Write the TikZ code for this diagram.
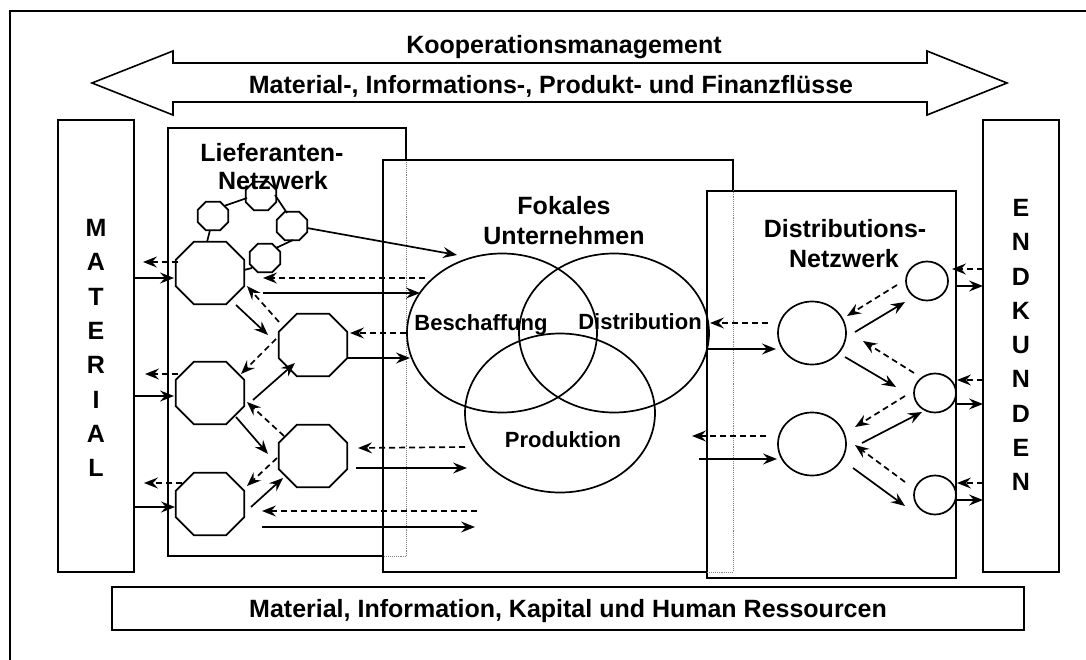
\documentclass[tikz,border=0pt]{standalone}
\usepackage{fontspec}
\setmainfont{Liberation Sans}
\usetikzlibrary{arrows.meta,calc,shapes.geometric}

% octagon drawn around a named rectangular node, #2 = size of the corner cut
\newcommand{\octagonat}[2]{%
  \draw[line width=1.7pt, line join=miter]
    ($(#1.north west)+(#2,0)$) -- ($(#1.north east)+(-#2,0)$)
    -- ($(#1.north east)+(0,#2)$) -- ($(#1.south east)+(0,-#2)$)
    -- ($(#1.south east)+(-#2,0)$) -- ($(#1.south west)+(#2,0)$)
    -- ($(#1.south west)+(0,-#2)$) -- ($(#1.north west)+(0,#2)$) -- cycle;}

\begin{document}
\begin{tikzpicture}[x=1pt,y=-1pt,
  frameline/.style={line width=2pt},
  boxline/.style={line width=1.6pt},
  panel/.style={rectangle, inner sep=0pt},
  overlapline/.style={line width=1.1pt, densely dotted, black!50},
  htext/.style={font=\bfseries\fontsize{25}{30}\selectfont, inner sep=0pt, text depth=0pt},
  vtext/.style={font=\bfseries\fontsize{22}{26}\selectfont, inner sep=0pt, text depth=0pt},
  bigoct/.style={rectangle, minimum width=68pt, minimum height=62pt, inner sep=0pt},
  smalloct/.style={rectangle, minimum width=30pt, minimum height=28pt, inner sep=0pt},
  venn/.style={draw, line width=1.7pt, ellipse, minimum width=190pt, minimum height=159pt, inner sep=0pt},
  hubnode/.style={draw, line width=1.7pt, ellipse, minimum width=68pt, minimum height=63pt, inner sep=0pt},
  leafnode/.style={draw, line width=1.7pt, ellipse, minimum width=42pt, minimum height=39pt, inner sep=0pt},
  fwd/.style={line width=1.7pt, -{Stealth[length=14pt,width=11pt,inset=5pt]}},
  bwd/.style={fwd, dash pattern=on 6pt off 4pt},
  octlink/.style={line width=1.7pt},
]
\useasboundingbox (0,0) rectangle (1086,660);

% outer frame
\draw[frameline] (10,660) -- (10,11) -- (1086,11);

% two-headed arrow of the cooperation management
\draw[line width=1.6pt, line join=miter]
  (92,83) -- (173,51) -- (173,63) -- (927,63) -- (927,51) -- (1007,83)
  -- (927,115) -- (927,102) -- (173,102) -- (173,115) -- cycle;
\node[htext] (t-koop) at (564,44) {Kooperationsmanagement};
\node[htext] (t-flow) at (551,84) {Material-, Informations-, Produkt- und Finanzflüsse};

% side columns
\node[panel, draw, boxline, minimum width=76pt, minimum height=452pt] (mat) at (96,346) {};
\node[panel, draw, boxline, minimum width=76pt, minimum height=452pt] (endk) at (1021,346) {};
\foreach \ch [count=\i from 0] in {M,A,T,E,R,I,A,L}
  \node[htext] (mat-l\i) at ($(mat)+(0,{-118+34.3*\i})$) {\ch};
\foreach \ch [count=\i from 0] in {E,N,D,K,U,N,D,E,N}
  \node[htext] (endk-l\i) at ($(endk)+(0,{-138+34.25*\i})$) {\ch};

% resources bar
\node[panel, draw, boxline, minimum width=912pt, minimum height=43pt] (res) at (568,608.5) {};
\node[htext] (t-res) at (res) {Material, Information, Kapital und Human Ressourcen};

% network boxes
\node[panel, minimum width=238pt, minimum height=428pt] (lief) at (287,342) {};
\node[panel, minimum width=350pt, minimum height=412pt] (foc) at (558,366) {};
\node[panel, draw, boxline, minimum width=249pt, minimum height=387pt] (dist) at (831.5,384.5) {};

\draw[boxline] (foc.west |- lief.south) -- (lief.south west) -- (lief.north west)
  -- (lief.north east) -- (lief.east |- foc.north);
\draw[overlapline] (lief.east |- foc.north) -- (lief.south east) -- (foc.west |- lief.south);
\draw[boxline] (dist.west |- foc.south) -- (foc.south west) -- (foc.north west)
  -- (foc.north east) -- (foc.east |- dist.north);
\draw[overlapline] (foc.east |- dist.north) -- (foc.south east) -- (dist.west |- foc.south);

\node[htext] (t-lief1) at (272,152) {Lieferanten-};
\node[htext] (t-lief2) at (273,180) {Netzwerk};
\node[htext] (t-foc1) at (564,205) {Fokales};
\node[htext] (t-foc2) at (564,235) {Unternehmen};
\node[htext] (t-dist1) at (845,228) {Distributions-};
\node[htext] (t-dist2) at (844,258) {Netzwerk};

% supplier network
\node[smalloct] (s1) at (213,216) {};
\node[smalloct] (s2) at (261,196) {};
\node[smalloct] (s3) at (292,226) {};
\node[smalloct] (s4) at (265,258) {};
\node[bigoct] (A) at (210,273) {};
\node[bigoct] (B) at (313,345) {};
\node[bigoct] (C) at (210,393) {};
\node[bigoct] (D) at (313,456) {};
\node[bigoct] (E) at (210,504) {};
\foreach \n in {s1,s2,s3,s4} \octagonat{\n}{8};
\foreach \n in {A,B,C,D,E} \octagonat{\n}{18};

\draw[octlink] ($(s1)+(11,-10)$) -- ($(s2)+(-14,2)$);
\draw[octlink] ($(s2)+(14,-1)$) -- ($(s3)+(-5,-13)$);
\draw[octlink] ($(s3)+(1,14)$) -- ($(s4)+(11,-10)$);
\draw[octlink] ($(s1)+(-3,14)$) -- ($(A)+(-3,-31)$);
\draw[octlink] ($(s4)+(-13,10)$) -- ($(A)+(34,-3)$);

\draw[fwd] ($(A)+(26,32)$) -- ($(B)+(-45,-10)$);
\draw[bwd] ($(B)+(-34,-23)$) -- ($(A)+(37,13)$);
\draw[bwd] ($(B)+(-37,-6)$) -- ($(C)+(31,-19)$);
\draw[fwd] ($(C)+(43,7)$) -- ($(B)+(-18,18)$);
\draw[fwd] ($(C)+(26,24)$) -- ($(D)+(-45,-2)$);
\draw[bwd] ($(D)+(-29,-20)$) -- ($(C)+(37,9)$);
\draw[bwd] ($(D)+(-36,2)$) -- ($(E)+(37,-18)$);
\draw[fwd] ($(E)+(41,3)$) -- ($(D)+(-30,22)$);

% material supply
\draw[bwd] ($(A)+(-32,-11)$) -- ($(mat)+(47,-84)$);
\draw[fwd] ($(mat)+(38,-68)$) -- ($(A)+(-36,5)$);
\draw[bwd] ($(C)+(-32,-19)$) -- ($(mat)+(49,28)$);
\draw[fwd] ($(mat)+(38,50)$) -- ($(C)+(-36,3)$);
\draw[bwd] ($(E)+(-28,-21)$) -- ($(mat)+(48,137)$);
\draw[fwd] ($(mat)+(38,161)$) -- ($(E)+(-35,3)$);

% focal company
\node[venn] (besch) at (502,333) {};
\node[venn] (distr) at (614,333) {};
\node[venn] (prod) at (560,413) {};
\node[vtext] (t-besch) at (481,323) {Beschaffung};
\node[vtext] (t-distr) at (640,322) {Distribution};
\node[vtext] (t-prod) at (563,440) {Produktion};

\draw[fwd] ($(s3)+(15,2)$) -- ($(besch)+(-45,-78)$);
\draw[bwd] ($(besch)+(-77,-55)$) -- ($(A)+(53,5)$);
\draw[fwd] ($(A)+(53,20)$) -- ($(besch)+(-82,-40)$);
\draw[bwd] (besch.west) -- ($(B)+(37,-12)$);
\draw[fwd] ($(B)+(35,13)$) -- ($(besch)+(-92,25)$);
\draw[bwd] ($(prod)+(-95,34)$) -- ($(D)+(45,-8)$);
\draw[fwd] ($(D)+(43,12)$) -- ($(prod)+(-93,55)$);
\draw[bwd] ($(prod)+(-83,98)$) -- ($(E)+(52,7)$);
\draw[fwd] ($(E)+(52,23)$) -- ($(prod)+(-85,114)$);

% distribution network
\node[hubnode] (F) at (812,333) {};
\node[hubnode] (G) at (812,444) {};
\node[leafnode] (H) at (927,281) {};
\node[leafnode] (I) at (935,393) {};
\node[leafnode] (J) at (935,495) {};

\draw[bwd] ($(F)+(-44,-10)$) -- ($(distr)+(96,-10)$);
\draw[fwd] ($(distr)+(93,16)$) -- ($(F)+(-36,16)$);
\draw[bwd] ($(G)+(-46,-8)$) -- ($(prod)+(132,23)$);
\draw[fwd] ($(prod)+(139,46)$) -- ($(G)+(-35,15)$);

\draw[fwd] ($(F)+(43,-1)$) -- ($(H)+(-22,21)$);
\draw[bwd] ($(H)+(-30,4)$) -- ($(F)+(35,-17)$);
\draw[fwd] ($(F)+(33,24)$) -- ($(I)+(-39,-6)$);
\draw[bwd] ($(I)+(-21,-20)$) -- ($(F)+(51,8)$);
\draw[bwd] ($(I)+(-30,3)$) -- ($(G)+(43,-17)$);
\draw[fwd] ($(G)+(50,-1)$) -- ($(I)+(-13,19)$);
\draw[bwd] ($(J)+(-30,-13)$) -- ($(G)+(43,1)$);
\draw[fwd] ($(G)+(41,24)$) -- ($(J)+(-30,11)$);

% end customers
\draw[bwd] ($(endk)+(-38,-77)$) -- ($(H)+(25,-12)$);
\draw[fwd] ($(H)+(28,5)$) -- ($(endk)+(-38,-60)$);
\draw[bwd] ($(endk)+(-38,34)$) -- ($(I)+(22,-13)$);
\draw[fwd] ($(I)+(22,11)$) -- ($(endk)+(-38,58)$);
\draw[bwd] ($(endk)+(-38,137)$) -- ($(J)+(22,-12)$);
\draw[fwd] ($(J)+(22,5)$) -- ($(endk)+(-38,154)$);
\end{tikzpicture}
\end{document}
